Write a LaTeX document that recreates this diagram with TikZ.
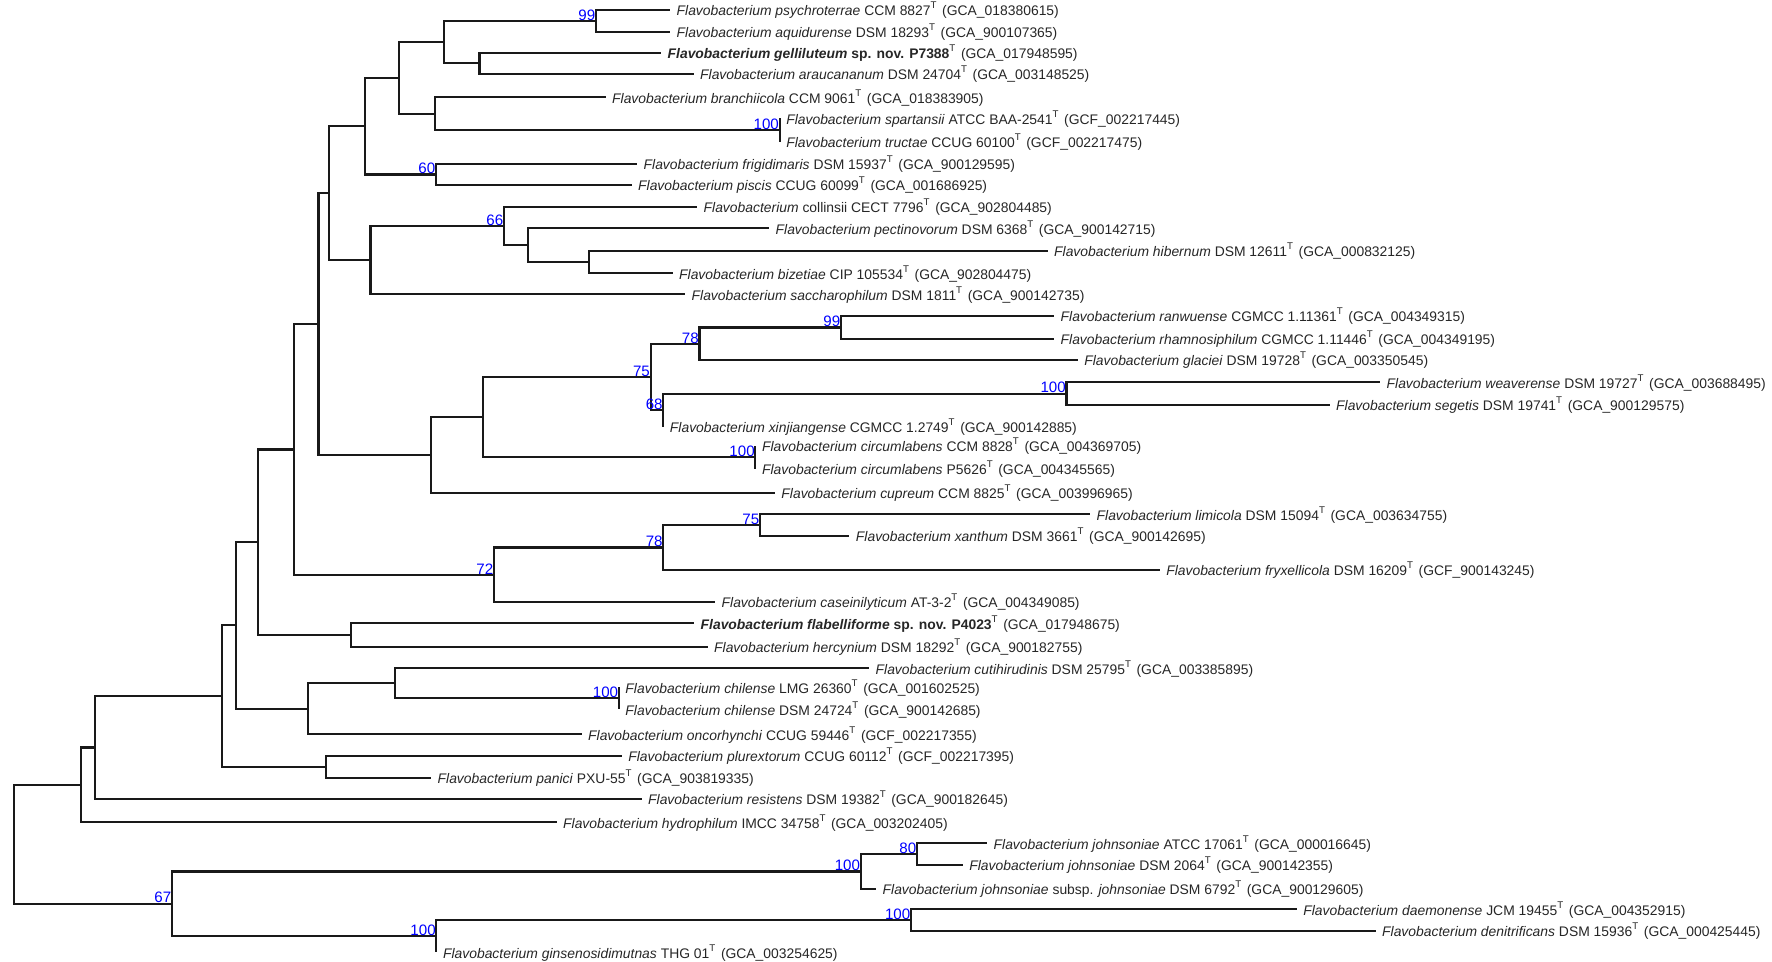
\documentclass[tikz,border=0pt]{standalone}
\usepackage{fontspec}
\setmainfont{Liberation Sans}
\newcommand{\typ}{\textsuperscript{T}}
\newcommand{\fl}[1]{\textit{Flavobacterium #1}}

\begin{document}
\begin{tikzpicture}[x=0.01cm, y=-0.01cm,
  branch/.style={line width=0.62pt, black!90},
  leaf/.style={anchor=west, inner xsep=1.7pt, inner ysep=0pt, text height=3.4pt, text depth=0pt,
    font=\fontsize{3.95}{5}\selectfont, text=black!85},
  boot/.style={anchor=south east, inner sep=0pt, font=\fontsize{4.3}{5}\selectfont, text=blue}]
  \useasboundingbox (0,0) rectangle (1772,962);

  \node[leaf] (psy) at (670,10) {\fl{psychroterrae} CCM 8827\typ{} (GCA\_018380615)};
  \node[leaf] (aqu) at (670,32) {\fl{aquidurense} DSM 18293\typ{} (GCA\_900107365)};
  \node[leaf] (gel) at (661,52.7) {\textbf{\fl{gelliluteum} sp. nov. P7388}\typ{} (GCA\_017948595)};
  \node[leaf] (ara) at (693.5,74) {\fl{araucananum} DSM 24704\typ{} (GCA\_003148525)};
  \node[leaf] (bra) at (605.5,97.3) {\fl{branchiicola} CCM 9061\typ{} (GCA\_018383905)};
  \node[leaf] (spa) at (779.6,118.3) {\fl{spartansii} ATCC BAA-2541\typ{} (GCF\_002217445)};
  \node[leaf] (tru) at (779.6,141.7) {\fl{tructae} CCUG 60100\typ{} (GCF\_002217475)};
  \node[leaf] (fri) at (637,164) {\fl{frigidimaris} DSM 15937\typ{} (GCA\_900129595)};
  \node[leaf] (pis) at (631.5,185) {\fl{piscis} CCUG 60099\typ{} (GCA\_001686925)};
  \node[leaf] (col) at (697,206.7) {\textit{Flavobacterium} collinsii CECT 7796\typ{} (GCA\_902804485)};
  \node[leaf] (pec) at (769,228.3) {\fl{pectinovorum} DSM 6368\typ{} (GCA\_900142715)};
  \node[leaf] (hib) at (1047.5,251) {\fl{hibernum} DSM 12611\typ{} (GCA\_000832125)};
  \node[leaf] (biz) at (672.5,273.3) {\fl{bizetiae} CIP 105534\typ{} (GCA\_902804475)};
  \node[leaf] (sac) at (685,294.3) {\fl{saccharophilum} DSM 1811\typ{} (GCA\_900142735)};
  \node[leaf] (ran) at (1054,316) {\fl{ranwuense} CGMCC 1.11361\typ{} (GCA\_004349315)};
  \node[leaf] (rha) at (1054,339) {\fl{rhamnosiphilum} CGMCC 1.11446\typ{} (GCA\_004349195)};
  \node[leaf] (gla) at (1077.6,360) {\fl{glaciei} DSM 19728\typ{} (GCA\_003350545)};
  \node[leaf] (wea) at (1380,382.3) {\fl{weaverense} DSM 19727\typ{} (GCA\_003688495)};
  \node[leaf] (seg) at (1329.5,405) {\fl{segetis} DSM 19741\typ{} (GCA\_900129575)};
  \node[leaf] (xin) at (663.3,426.7) {\fl{xinjiangense} CGMCC 1.2749\typ{} (GCA\_900142885)};
  \node[leaf] (cirA) at (755.4,445.7) {\fl{circumlabens} CCM 8828\typ{} (GCA\_004369705)};
  \node[leaf] (cirB) at (755.4,469) {\fl{circumlabens} P5626\typ{} (GCA\_004345565)};
  \node[leaf] (cup) at (774.8,492.7) {\fl{cupreum} CCM 8825\typ{} (GCA\_003996965)};
  \node[leaf] (lim) at (1090,514.3) {\fl{limicola} DSM 15094\typ{} (GCA\_003634755)};
  \node[leaf] (xan) at (849.3,535.7) {\fl{xanthum} DSM 3661\typ{} (GCA\_900142695)};
  \node[leaf] (fry) at (1159.6,570) {\fl{fryxellicola} DSM 16209\typ{} (GCF\_900143245)};
  \node[leaf] (cas) at (715,602) {\fl{caseinilyticum} AT-3-2\typ{} (GCA\_004349085)};
  \node[leaf] (fla) at (694,623.3) {\textbf{\fl{flabelliforme} sp. nov. P4023}\typ{} (GCA\_017948675)};
  \node[leaf] (her) at (707.5,647) {\fl{hercynium} DSM 18292\typ{} (GCA\_900182755)};
  \node[leaf] (cut) at (869,668.3) {\fl{cutihirudinis} DSM 25795\typ{} (GCA\_003385895)};
  \node[leaf] (chiA) at (618.8,687.3) {\fl{chilense} LMG 26360\typ{} (GCA\_001602525)};
  \node[leaf] (chiB) at (618.8,709.3) {\fl{chilense} DSM 24724\typ{} (GCA\_900142685)};
  \node[leaf] (onc) at (581.5,734.3) {\fl{oncorhynchi} CCUG 59446\typ{} (GCF\_002217355)};
  \node[leaf] (plu) at (621.6,756) {\fl{plurextorum} CCUG 60112\typ{} (GCF\_002217395)};
  \node[leaf] (pan) at (431,777.7) {\fl{panici} PXU-55\typ{} (GCA\_903819335)};
  \node[leaf] (res) at (641.5,799) {\fl{resistens} DSM 19382\typ{} (GCA\_900182645)};
  \node[leaf] (hyd) at (556.5,822.3) {\fl{hydrophilum} IMCC 34758\typ{} (GCA\_003202405)};
  \node[leaf] (johA) at (987,843.3) {\fl{johnsoniae} ATCC 17061\typ{} (GCA\_000016645)};
  \node[leaf] (johB) at (962.7,865) {\fl{johnsoniae} DSM 2064\typ{} (GCA\_900142355)};
  \node[leaf] (johC) at (876,889) {\fl{johnsoniae} subsp. \textit{johnsoniae} DSM 6792\typ{} (GCA\_900129605)};
  \node[leaf] (dae) at (1296.6,909.3) {\fl{daemonense} JCM 19455\typ{} (GCA\_004352915)};
  \node[leaf] (den) at (1375.5,931) {\fl{denitrificans} DSM 15936\typ{} (GCA\_000425445)};
  \node[leaf] (gin) at (436.4,952.3) {\fl{ginsenosidimutnas} THG 01\typ{} (GCA\_003254625)};

  \coordinate (n99a) at (596,21);
  \coordinate (nGel) at (479.5,63.3);
  \coordinate (nA1) at (444,42.2);
  \coordinate (n100s) at (779.6,130);
  \coordinate (nBr) at (435,113.7);
  \coordinate (nA2) at (399,78);
  \coordinate (n60) at (436,174.5);
  \coordinate (nA3) at (365,126);
  \coordinate (nBiz) at (588.6,262);
  \coordinate (nPec) at (528,245);
  \coordinate (n66) at (504,226);
  \coordinate (nSac) at (370.5,260);
  \coordinate (nA4) at (329,193);
  \coordinate (n99b) at (841,327.5);
  \coordinate (n78a) at (699.5,344);
  \coordinate (n100w) at (1066.5,393.7);
  \coordinate (n68) at (663.3,410);
  \coordinate (n75a) at (650.6,377);
  \coordinate (n100c) at (755.4,457.3);
  \coordinate (nCir) at (483,417);
  \coordinate (nCup) at (431.4,455);
  \coordinate (nA5) at (318.5,324);
  \coordinate (n75b) at (760,525);
  \coordinate (n78b) at (663.3,547.5);
  \coordinate (n72) at (494,575);
  \coordinate (nA6) at (293.6,449.5);
  \coordinate (nFla) at (351,635);
  \coordinate (nA7) at (258,542);
  \coordinate (n100ch) at (618.8,698.3);
  \coordinate (nCut) at (395.4,683.3);
  \coordinate (nOnc) at (308,708.8);
  \coordinate (nA8) at (236.4,625.4);
  \coordinate (nPlu) at (325.7,766.8);
  \coordinate (nA9) at (222,696);
  \coordinate (nA10) at (94.6,747.5);
  \coordinate (nA11) at (80.7,785);
  \coordinate (n80) at (917,854);
  \coordinate (n100j) at (860.7,871.5);
  \coordinate (n100d) at (911,920);
  \coordinate (n100g) at (436.4,936);
  \coordinate (n67) at (172,903.7);
  \coordinate (root) at (14.3,844);

  \draw[branch] (n99a) |- (psy.west) (n99a) |- (aqu.west);
  \draw[branch] (nGel) |- (gel.west) (nGel) |- (ara.west);
  \draw[branch] (nA1) |- (n99a) (nA1) |- (nGel);
  \draw[branch] (n100s) |- (spa.west) (n100s) |- (tru.west);
  \draw[branch] (nBr) |- (bra.west) (nBr) |- (n100s);
  \draw[branch] (nA2) |- (nA1) (nA2) |- (nBr);
  \draw[branch] (n60) |- (fri.west) (n60) |- (pis.west);
  \draw[branch] (nA3) |- (nA2) (nA3) |- (n60);
  \draw[branch] (nBiz) |- (hib.west) (nBiz) |- (biz.west);
  \draw[branch] (nPec) |- (pec.west) (nPec) |- (nBiz);
  \draw[branch] (n66) |- (col.west) (n66) |- (nPec);
  \draw[branch] (nSac) |- (n66) (nSac) |- (sac.west);
  \draw[branch] (nA4) |- (nA3) (nA4) |- (nSac);
  \draw[branch] (n99b) |- (ran.west) (n99b) |- (rha.west);
  \draw[branch] (n78a) |- (n99b) (n78a) |- (gla.west);
  \draw[branch] (n100w) |- (wea.west) (n100w) |- (seg.west);
  \draw[branch] (n68) |- (n100w) (n68) |- (xin.west);
  \draw[branch] (n75a) |- (n78a) (n75a) |- (n68);
  \draw[branch] (n100c) |- (cirA.west) (n100c) |- (cirB.west);
  \draw[branch] (nCir) |- (n75a) (nCir) |- (n100c);
  \draw[branch] (nCup) |- (nCir) (nCup) |- (cup.west);
  \draw[branch] (nA5) |- (nA4) (nA5) |- (nCup);
  \draw[branch] (n75b) |- (lim.west) (n75b) |- (xan.west);
  \draw[branch] (n78b) |- (n75b) (n78b) |- (fry.west);
  \draw[branch] (n72) |- (n78b) (n72) |- (cas.west);
  \draw[branch] (nA6) |- (nA5) (nA6) |- (n72);
  \draw[branch] (nFla) |- (fla.west) (nFla) |- (her.west);
  \draw[branch] (nA7) |- (nA6) (nA7) |- (nFla);
  \draw[branch] (n100ch) |- (chiA.west) (n100ch) |- (chiB.west);
  \draw[branch] (nCut) |- (cut.west) (nCut) |- (n100ch);
  \draw[branch] (nOnc) |- (nCut) (nOnc) |- (onc.west);
  \draw[branch] (nA8) |- (nA7) (nA8) |- (nOnc);
  \draw[branch] (nPlu) |- (plu.west) (nPlu) |- (pan.west);
  \draw[branch] (nA9) |- (nA8) (nA9) |- (nPlu);
  \draw[branch] (nA10) |- (nA9) (nA10) |- (res.west);
  \draw[branch] (nA11) |- (nA10) (nA11) |- (hyd.west);
  \draw[branch] (n80) |- (johA.west) (n80) |- (johB.west);
  \draw[branch] (n100j) |- (n80) (n100j) |- (johC.west);
  \draw[branch] (n100d) |- (dae.west) (n100d) |- (den.west);
  \draw[branch] (n100g) |- (n100d) (n100g) |- (gin.west);
  \draw[branch] (n67) |- (n100j) (n67) |- (n100g);
  \draw[branch] (root) |- (nA11) (root) |- (n67);

  \node[boot] (b99a) at (n99a) {99};
  \node[boot] (b100s) at (n100s) {100};
  \node[boot] (b60) at (n60) {60};
  \node[boot] (b66) at (n66) {66};
  \node[boot] (b99b) at (n99b) {99};
  \node[boot] (b78a) at (n78a) {78};
  \node[boot] (b75a) at (n75a) {75};
  \node[boot] (b68) at (n68) {68};
  \node[boot] (b100w) at (n100w) {100};
  \node[boot] (b100c) at (n100c) {100};
  \node[boot] (b75b) at (n75b) {75};
  \node[boot] (b78b) at (n78b) {78};
  \node[boot] (b72) at (n72) {72};
  \node[boot] (b100ch) at (n100ch) {100};
  \node[boot] (b80) at (n80) {80};
  \node[boot] (b100j) at (n100j) {100};
  \node[boot] (b100d) at (n100d) {100};
  \node[boot] (b100g) at (n100g) {100};
  \node[boot] (b67) at (n67) {67};
\end{tikzpicture}
\end{document}
